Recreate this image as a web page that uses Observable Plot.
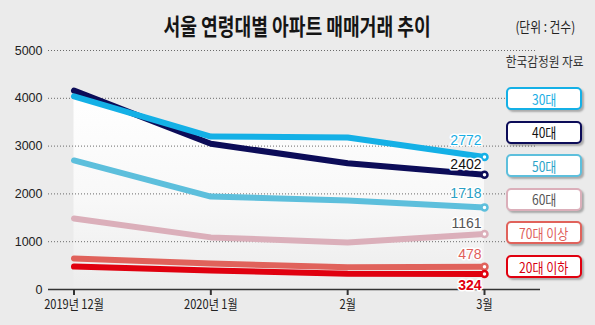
<!DOCTYPE html>
<html><head><meta charset="utf-8">
<script src="https://cdn.jsdelivr.net/npm/d3@7"></script>
<script src="https://cdn.jsdelivr.net/npm/@observablehq/plot@0.6"></script>
<style>
html,body{margin:0;padding:0;background:#ebebeb;}
#wrap{position:relative;width:595px;height:325px;overflow:hidden;background:#ebebeb;}
#wrap svg{position:absolute;left:0;top:0;}
.ov{position:absolute;white-space:nowrap;font-family:"Noto Sans CJK KR",sans-serif;line-height:1;}
.title{left:0;width:595px;top:14px;text-align:center;font-size:23px;font-weight:700;color:#151515;}
.title span{display:inline-block;transform:scaleX(.79);}
.unit{right:20px;top:19px;font-size:14px;color:#222;transform:scaleX(.84);transform-origin:right center;}
.src{right:11px;top:54px;font-size:13px;color:#333;transform:scaleX(.9);transform-origin:right center;}
.leg{position:absolute;left:506px;width:76px;height:23px;box-sizing:border-box;border:2px solid;border-radius:5px;background:#fff;box-shadow:2px 2px 2px rgba(0,0,0,.28);display:flex;align-items:center;justify-content:center;font-family:"Noto Sans CJK KR",sans-serif;font-size:14px;line-height:1;}
.leg span{display:inline-block;transform:scaleX(.86);}
</style></head>
<body><div id="wrap"></div>
<script>
// ---- data ----
const months = ["2019년 12월", "2020년 1월", "2월", "3월"];
const series = ["30대", "40대", "50대", "60대", "70대 이상", "20대 이하"];
const v30 = [4040, 3200, 3180, 2772];
const v40 = [4160, 3050, 2640, 2402];
const v50 = [2700, 1945, 1860, 1718];
const v60 = [1485, 1090, 985, 1161];
const v70 = [650, 545, 465, 478];
const v20 = [480, 400, 330, 324];
const yTicks = [0, 1000, 2000, 3000, 4000, 5000];
const titleText = "서울 연령대별 아파트 매매거래 추이";
const unitText = "(단위 : 건수)";
const sourceText = "한국감정원 자료";

// ---- styles ----
const style = {
  "30대":     {line: "#14b0e6", label: "#1aaee4", text: "#1aaee4", dy: -16},
  "40대":     {line: "#0c0c58", label: "#111111", text: "#111111", dy: -10},
  "50대":     {line: "#5dbfdc", label: "#2a9fc5", text: "#2aa3c8", dy: -14},
  "60대":     {line: "#dbafba", label: "#555555", text: "#555555", dy: -10},
  "70대 이상": {line: "#e0625b", label: "#e0605a", text: "#e0605a", dy: -12},
  "20대 이하": {line: "#e0000f", label: "#e0000f", text: "#d8000f", dy: 12, bold: true}
};
const val = {"30대": v30, "40대": v40, "50대": v50, "60대": v60, "70대 이상": v70, "20대 이하": v20};
const drawOrder = ["60대", "50대", "40대", "30대", "70대 이상", "20대 이하"];
const lastI = months.length - 1;
const envelope = months.map((m, i) => ({i, v: d3.max(series, s => val[s][i])}));
const pts = s => val[s].map((v, i) => ({i, v}));
const endPt = s => [{i: lastI, v: val[s][lastI]}];

const numFont = "'Liberation Sans', Arial, sans-serif";
const cjkFont = "'Noto Sans CJK KR', sans-serif";

const chart = Plot.plot({
  width: 595, height: 325,
  marginLeft: 48, marginRight: 58, marginTop: 50, marginBottom: 36,
  style: {background: "transparent", color: "#222", fontFamily: numFont, fontSize: "12.5px", overflow: "visible"},
  x: {domain: [0, lastI], insetLeft: 25.5, insetRight: 53, label: null},
  y: {domain: [0, 5000], label: null},
  marks: [
    Plot.areaY(envelope, {x: "i", y: "v", fill: "url(#ageGrad)"}),
    Plot.ruleY(yTicks.filter(t => t > 0), {stroke: "#6a6a6a", strokeDasharray: "1,2", strokeWidth: 1}),
    Plot.axisY(yTicks, {tickSize: 0, tickPadding: 6, tickFormat: d => String(d), fontSize: 12.5, fontFamily: numFont, label: null}),
    Plot.ruleY([0], {stroke: "#333", strokeWidth: 1.5, insetRight: -3}),
    Plot.axisX(d3.range(months.length), {tickFormat: i => months[i], tickSize: 6, tickPadding: 4, stroke: "#333", strokeWidth: 2, fontSize: 13, fontFamily: cjkFont, label: null}),
    ...drawOrder.map(s => Plot.line(pts(s), {x: "i", y: "v", stroke: style[s].line, strokeWidth: 6, strokeLinecap: "round", strokeLinejoin: "round"})),
    ...drawOrder.map(s => Plot.dot(endPt(s), {x: "i", y: "v", r: 3, fill: "white", stroke: style[s].line, strokeWidth: 2.5})),
    ...drawOrder.map(s => Plot.text(endPt(s), {x: "i", y: "v", text: d => String(d.v), textAnchor: "end", dx: -3, dy: style[s].dy,
      fill: style[s].label, stroke: "white", strokeWidth: 3, fontSize: 14, fontWeight: style[s].bold ? "bold" : "normal",
      fontFamily: numFont, ariaLabel: "value-label"}))
  ]
});

const wrap = document.getElementById("wrap");
wrap.appendChild(chart);

// gradient for the area under the top envelope
const svg = d3.select(chart);
const grad = svg.insert("defs", ":first-child").append("linearGradient")
  .attr("id", "ageGrad").attr("x1", 0).attr("y1", 0).attr("x2", 0).attr("y2", 1);
grad.append("stop").attr("offset", 0).attr("stop-color", "#ffffff");
grad.append("stop").attr("offset", 0.55).attr("stop-color", "#f8f8f8");
grad.append("stop").attr("offset", 1).attr("stop-color", "#ececec");

function condense(sel, k) {
  sel.each(function () {
    const L = this.getComputedTextLength();
    this.setAttribute("textLength", L * k);
    this.setAttribute("lengthAdjust", "spacingAndGlyphs");
  });
}
condense(svg.selectAll('g[aria-label="value-label"] text'), 0.9);
condense(svg.selectAll('g[aria-label="x-axis tick label"] text'), 0.85);

// title, unit, source
function addOv(cls, html) {
  const d = document.createElement("div");
  d.className = "ov " + cls;
  d.innerHTML = html;
  wrap.appendChild(d);
  return d;
}
addOv("title", `<span>${titleText}</span>`);
addOv("unit", unitText);
addOv("src", sourceText);

// legend boxes
series.forEach((s, k) => {
  const d = document.createElement("div");
  d.className = "leg";
  d.style.top = (87 + k * 33.6) + "px";
  d.style.borderColor = style[s].line;
  d.style.color = style[s].text;
  d.innerHTML = `<span>${s}</span>`;
  wrap.appendChild(d);
});
</script>
</body></html>
